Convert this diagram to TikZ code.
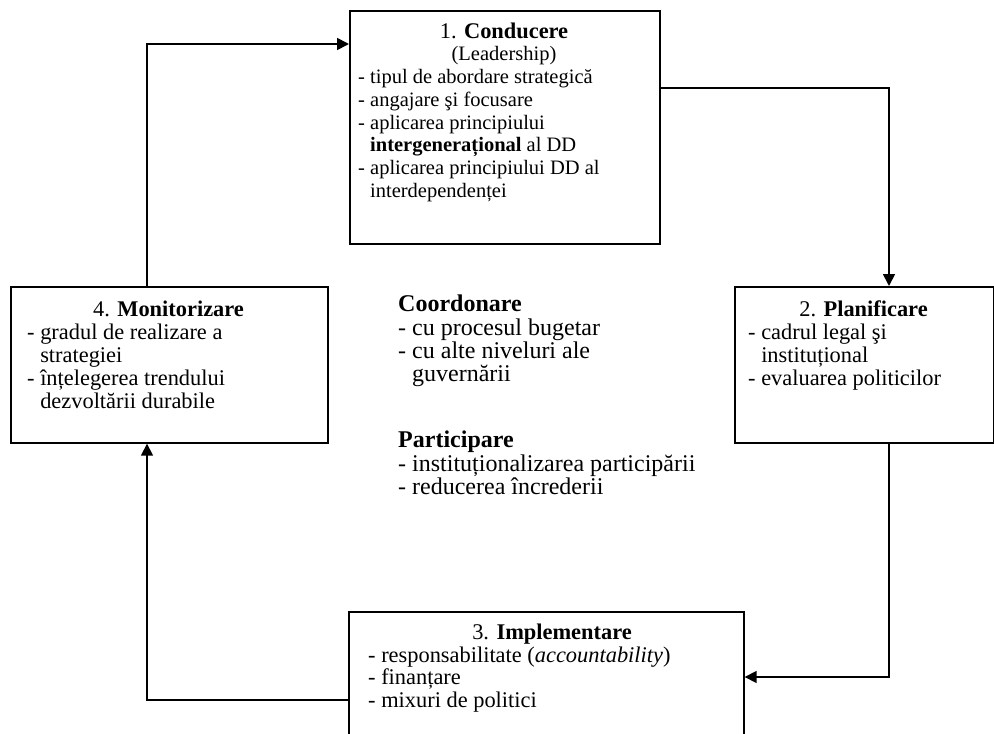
\documentclass[tikz,border=0pt]{standalone}
\usepackage{fontspec}
\setmainfont{Liberation Serif}
\usetikzlibrary{arrows.meta}
\begin{document}
\begin{tikzpicture}[x=1pt,y=-1pt,
  box/.style={draw,line width=1.7pt,rectangle,inner sep=0pt,anchor=north west},
  txt/.style={inner sep=0pt,font=\fontsize{22.4}{22.9}\selectfont},
  txtsm/.style={inner sep=0pt,font=\fontsize{20.5}{22.8}\selectfont},
  mid/.style={inner sep=0pt,font=\fontsize{24}{23}\selectfont},
  arr/.style={line width=1.7pt,-{Triangle[length=12pt,width=12pt]}}]
\useasboundingbox (0,0) rectangle (994,734);
\clip (0,0) rectangle (994,734);
% boxes
\node[box,minimum width=310pt,minimum height=233pt] (b1) at (349,10) {};
\node[box,minimum width=259pt,minimum height=156pt] (b2) at (734,286) {};
\node[box,minimum width=395pt,minimum height=160pt] (b3) at (348,611) {};
\node[box,minimum width=317pt,minimum height=156pt] (b4) at (10,286) {};
% box 1 text
\node[txt,anchor=base] (t1) at (504,38) {1. \textbf{Conducere}};
\node[txtsm,anchor=base] (t1b) at (504,60.5) {(Leadership)};
\node[txtsm,anchor=base west] (l1) at (358,83.5) {\begin{tabular}[t]{@{}l@{}}- tipul de abordare strategică\\- angajare şi focusare\\- aplicarea principiului\\\hphantom{- }\textbf{intergenerațional} al DD\\- aplicarea principiului DD al\\\hphantom{- }interdependenței\end{tabular}};
% box 2 text
\node[txt,anchor=base] (t2) at (863.5,316.5) {2. \textbf{Planificare}};
\node[txt,anchor=base west] (l2) at (748,339.5) {\begin{tabular}[t]{@{}l@{}}- cadrul legal şi\\\hphantom{- }instituțional\\- evaluarea politicilor\end{tabular}};
% box 3 text
\node[txt,anchor=base] (t3) at (552,639) {3. \textbf{Implementare}};
\node[txt,anchor=base west] (l3) at (368,662) {\begin{tabular}[t]{@{}l@{}}- responsabilitate (\textit{accountability})\\- finanțare\\- mixuri de politici\end{tabular}};
% box 4 text
\node[txt,anchor=base] (t4) at (168.5,316.5) {4. \textbf{Monitorizare}};
\node[txt,anchor=base west] (l4) at (27,339.5) {\begin{tabular}[t]{@{}l@{}}- gradul de realizare a\\\hphantom{- }strategiei\\- înțelegerea trendului\\\hphantom{- }dezvoltării durabile\end{tabular}};
% middle text
\node[mid,anchor=base west] (co) at (398,311.5) {\begin{tabular}[t]{@{}l@{}}\textbf{Coordonare}\\- cu procesul bugetar\\- cu alte niveluri ale\\\hphantom{- }guvernării\end{tabular}};
\node[mid,anchor=base west] (pa) at (398,447.5) {\begin{tabular}[t]{@{}l@{}}\textbf{Participare}\\- instituționalizarea participării\\- reducerea încrederii\end{tabular}};
% connectors
\coordinate (c41) at (147,44);
\coordinate (c12) at (889,88);
\coordinate (c23) at (889,677);
\coordinate (c34) at (147,700);
\draw[arr] (b4.north -| c41) -- (c41) -- (c41 -| b1.west);
\draw[arr] (b1.east |- c12) -- (c12) -- (c12 |- b2.north);
\draw[arr] (b2.south -| c23) -- (c23) -- (c23 -| b3.east);
\draw[arr] (b3.west |- c34) -- (c34) -- (c34 |- b4.south);
\end{tikzpicture}
\end{document}
